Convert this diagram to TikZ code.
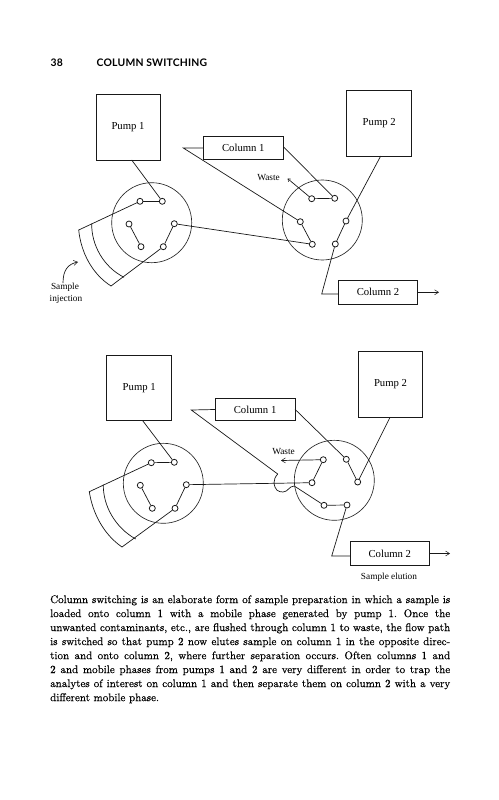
\documentclass[tikz,border=0pt]{standalone}
\usepackage{fontspec}
\usetikzlibrary{arrows.meta,calc}
\newfontfamily\labelfont{Liberation Serif}
\newfontfamily\headfont[LetterSpace=2]{Lato}
\newfontfamily\bodyfont[AutoFakeBold=0.35]{Latin Modern Roman}
\frenchspacing
\tikzset{
  x=1pt,y=-1pt,
  wire/.style={line width=0.7pt,black!90},
  flow/.style={wire,-{Straight Barb[length=4pt,width=5pt,line width=0.5pt]}},
  tiny flow/.style={wire,-{Straight Barb[length=2.5pt,width=3.5pt,line width=0.5pt]}},
  port/.style={circle,draw=black!90,line width=0.8pt,fill=white,inner sep=0pt,minimum size=6pt},
  valve/.style={circle,draw=black!85,line width=0.65pt,inner sep=0pt,minimum size=80pt},
  pumpbox/.style={rectangle,draw=black!90,line width=0.75pt,inner sep=0pt,minimum size=65pt,font=\labelfont\fontsize{10.7}{12}\selectfont},
  colbox/.style={rectangle,draw=black!90,line width=0.75pt,inner sep=0pt,minimum height=22.5pt,font=\labelfont\fontsize{10.7}{12}\selectfont},
  lab/.style={inner sep=0pt,font=\labelfont\fontsize{9.3}{10}\selectfont},
  body/.style={inner sep=0pt,anchor=west,font=\bodyfont\bfseries\fontsize{11}{14}\selectfont},
  head/.style={inner sep=0pt,anchor=west,font=\headfont\bfseries\fontsize{10.4}{12}\selectfont},
}
\newcommand{\bline}[3]{\node[body] (#1) at (50,#2) {\makebox[400pt][s]{#3}};}
\begin{document}
\begin{tikzpicture}
\useasboundingbox (0,0) rectangle (498,800);
\fill[white] (0,0) rectangle (498,800);
% header
\node[head] (pg) at (50.5,63) {38};
\node[head] (hd) at (96.5,63) {COLUMN SWITCHING};

% ---------- upper diagram
\node[valve] (va) at (151.7,222.7) {};
\node[valve] (vb) at (322.3,220) {};
\node[pumpbox,minimum width=64pt,minimum height=66pt] (pa) at (128,127) {Pump 1};
\node[pumpbox,minimum width=65pt,minimum height=66pt] (pb) at (379.2,123) {Pump 2};
\node[colbox,minimum width=80pt] (ca) at (243.3,148) {Column 1};
\node[colbox,minimum width=79.4pt,minimum height=23.3pt] (cb) at (378,292.3) {Column 2};
\foreach \n/\x/\y in {a1/140/201.3,a2/162.3/201.3,a3/174.3/223.7,a4/163.3/246.7,a5/141/246.7,a6/129/224,
  b1/311.7/198.7,b2/334.7/198.3,b3/346/221,b4/335.3/244,b5/312.3/244.3,b6/300.3/221.7}
  \node[port] (\n) at (\x,\y) {};
\coordinate (paout) at (131.7,160);
\coordinate (pbout) at (380.7,156);
\coordinate (tipa) at (183.3,148);
\coordinate (caout) at (283.3,146.7);
\coordinate (wastea) at (287.5,178.5);
\coordinate (elbowa) at (321.7,294);
\coordinate (outa) at (439,292.3);
\coordinate (la) at (78.7,230);
\coordinate (lb) at (111,286);
\coordinate (lc) at (91.7,223.5);
\coordinate (ld) at (124,277.3);
\draw[wire] (paout) -- (a2);
\draw[wire] (a1) -- (a2);
\draw[wire] (a5) -- (a6);
\draw[wire] (a3) -- (a4);
\draw[wire] (a1) -- (la) .. controls (81,252.5) and (92,273.8) .. (lb) -- (a4);
\draw[wire] (lc) .. controls (91.3,244.8) and (103.4,266.9) .. (ld);
\draw[wire] (a3) -- (b5);
\draw[wire] (ca.west) -- (tipa) -- (b6);
\draw[wire] (b6) -- (b5);
\draw[wire] (caout) -- (b2);
\draw[wire] (b1) -- (b2);
\draw[tiny flow] (b1) -- (wastea);
\draw[wire] (pbout) -- (b3);
\draw[wire] (b3) -- (b4);
\draw[wire] (b4) -- (elbowa) -- (cb.west |- elbowa);
\draw[flow] (cb.east) -- (outa);
\node[lab] (wa) at (268.5,178) {Waste};
\node[lab] (sa) at (65,287.5) {Sample};
\node[lab] (sb) at (66,299) {injection};
\coordinate (ih) at (78,262);
\draw[flow] (sa.north) ++(-2,0) .. controls (63,270) and (68,264) .. (ih);

% ---------- lower diagram
\node[valve] (vc) at (163.3,483.3) {};
\node[valve] (vd) at (334.3,480.3) {};
\node[pumpbox,minimum width=65pt,minimum height=65.7pt] (pc) at (139.2,387.9) {Pump 1};
\node[pumpbox,minimum width=64.4pt,minimum height=66.3pt] (pd) at (390.5,384.2) {Pump 2};
\node[colbox,minimum width=79.7pt] (cc) at (255.1,409.5) {Column 1};
\node[colbox,minimum width=79pt,minimum height=23.6pt] (cd) at (389.8,553.5) {Column 2};
\foreach \n/\x/\y in {c1/151.3/462.7,c2/174.3/462.3,c3/186.3/484.7,c4/175/508.3,c5/152.3/508.3,c6/140.3/485.3,
  d1/323.3/459.7,d2/346.3/459.3,d3/357.7/482,d4/347/505,d5/324/505.3,d6/312/482.7}
  \node[port] (\n) at (\x,\y) {};
\coordinate (pcout) at (142.7,420.7);
\coordinate (pdout) at (390,417.3);
\coordinate (tipb) at (191.3,410);
\coordinate (ccout) at (295,409.3);
\coordinate (wasteb) at (281,460.5);
\coordinate (elbowb) at (331.7,556);
\coordinate (outb) at (450,553.5);
\coordinate (ma) at (89.3,491.7);
\coordinate (mb) at (122,547);
\coordinate (mc) at (103.3,484.5);
\coordinate (md) at (135.7,539);
\coordinate (ha) at (277.7,474);
\coordinate (hb) at (294.3,486);
\draw[wire] (pcout) -- (c2);
\draw[wire] (c1) -- (c2);
\draw[wire] (c5) -- (c6);
\draw[wire] (c3) -- (c4);
\draw[wire] (c1) -- (ma) .. controls (92.6,513.1) and (103.6,534.4) .. (mb) -- (c4);
\draw[wire] (mc) .. controls (102.9,505.4) and (115,527.5) .. (md);
\draw[wire] (c3) -- (d6);
\draw[wire] (cc.west) -- (tipb) -- (ha) .. controls (275,477) and (274,480) .. (274,483)
   .. controls (275,490) and (278,492) .. (283,492) .. controls (288,492) and (289,486) .. (hb) -- (d5);
\draw[wire] (d1) -- (d6);
\draw[flow] (d1) -- (wasteb);
\draw[wire] (ccout) -- (d2);
\draw[wire] (d2) -- (d3);
\draw[wire] (pdout) -- (d3);
\draw[wire] (d4) -- (d5);
\draw[wire] (d4) -- (elbowb) -- (cd.west |- elbowb);
\draw[flow] (cd.east) -- (outb);
\node[lab] (wb) at (283.5,451.5) {Waste};
\node[lab] (se) at (389,577) {Sample elution};

% ---------- body text
\bline{t1}{600.3}{Column switching is an elaborate form of sample preparation in which a sample is}
\bline{t2}{614.3}{loaded onto column 1 with a mobile phase generated by pump 1. Once the}
\bline{t3}{628.3}{unwanted contaminants, etc., are flushed through column 1 to waste, the flow path}
\bline{t4}{642.3}{is switched so that pump 2 now elutes sample on column 1 in the opposite direc-}
\bline{t5}{656.3}{tion and onto column 2, where further separation occurs. Often columns 1 and}
\bline{t6}{670.3}{2 and mobile phases from pumps 1 and 2 are very different in order to trap the}
\bline{t7}{684.3}{analytes of interest on column 1 and then separate them on column 2 with a very}
\node[body] (t8) at (50,698.3) {different mobile phase.};
\end{tikzpicture}
\end{document}
